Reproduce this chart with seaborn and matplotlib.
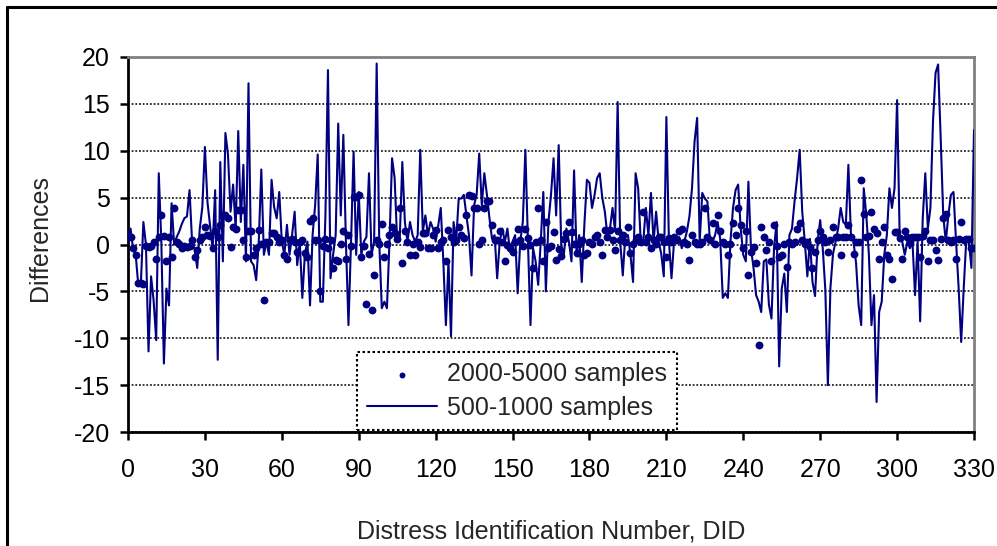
import matplotlib
matplotlib.use("Agg")
import matplotlib.pyplot as plt
from matplotlib.lines import Line2D
import seaborn as sns

# Differences per distress identification number (DID 0..330)
diff_500_1000 = [
    1.0, 1.7, -0.5, -1.1, -4.3, -4.3, 2.4, 0.0, -11.4, -3.4,
    -6.0, -10.2, 7.6, 0.3, -12.7, -4.7, -6.5, 4.4, 0.0, 0.8,
    1.4, 2.2, 2.8, 3.0, 5.8, 0.3, -0.5, -2.5, 1.7, 4.0,
    10.4, 4.5, 2.0, -0.4, 5.8, -12.3, 8.8, -1.8, 11.9, 9.6,
    3.5, 6.4, 1.7, 12.1, 2.4, 8.5, -1.8, 17.2, -1.8, -2.2,
    -3.8, 0.3, 8.0, -1.1, 0.3, -1.1, 6.9, 4.0, 2.8, 5.6,
    0.3, -1.1, 2.1, -1.1, 1.0, 3.5, -2.2, 0.3, -5.7, -1.0,
    0.3, -6.5, 1.0, 4.2, 9.6, -6.1, -6.1, 3.0, 18.6, -3.6,
    -1.1, 1.0, 12.9, 3.1, 11.7, 0.3, -8.6, 0.3, 9.9, -1.1,
    5.6, -1.1, 0.3, 0.8, 7.6, -1.1, 0.3, 19.3, 0.3, -6.8,
    -6.1, -6.8, 0.3, 9.2, 7.1, 0.3, 0.6, 8.8, 2.4, 0.3,
    2.4, 1.0, 0.3, 1.0, 10.1, 1.4, 3.1, 1.0, 2.4, 1.7,
    0.3, 2.0, 3.9, -1.8, -8.6, -1.8, -9.8, 2.4, 0.3, 4.9,
    4.9, 5.3, 3.1, 1.0, -3.3, 4.2, 5.3, 9.7, 4.2, 7.6,
    5.3, 2.8, 0.6, 1.0, -3.6, 0.3, 1.7, 0.3, 1.7, -0.8,
    0.3, 1.0, -5.2, 0.3, 2.4, 10.1, 0.3, -8.6, -0.4, -1.8,
    -4.3, 0.3, 5.6, -5.0, 2.4, 5.3, 9.2, 3.1, 10.6, -0.1,
    -1.1, 1.7, 0.3, -1.8, 7.9, -1.1, 1.0, -4.0, 2.0, 6.9,
    6.6, 3.9, 5.3, 7.1, 7.6, 5.0, 3.5, 1.0, 1.7, 3.9,
    1.4, 15.2, 0.3, -3.3, 1.0, 1.0, -1.1, -4.0, 7.6, 6.0,
    0.3, 0.3, 3.9, 1.0, 5.5, 0.3, 3.5, 0.3, -1.0, -3.4,
    13.6, 0.3, -3.6, 0.3, 0.3, 0.8, -0.4, 0.3, 1.4, 3.0,
    6.0, 11.0, 13.5, 0.3, 5.5, 4.9, 4.6, 0.3, 0.3, 1.0,
    2.4, 0.6, -5.7, -5.2, -5.7, 0.3, 3.9, 5.8, 6.4, 1.7,
    -1.1, -1.8, 6.7, -0.4, -2.5, -5.4, -6.1, -7.2, -1.8, -1.6,
    -6.4, -7.9, -0.4, 2.4, -13.0, -4.7, -3.1, -7.2, 1.0, 1.7,
    4.6, 7.1, 10.1, 3.5, 0.3, -3.4, 0.6, -4.0, -5.5, 0.3,
    2.6, -0.4, -4.8, -15.0, -4.6, -1.0, 0.3, 1.7, 3.9, 2.4,
    2.1, 8.5, 1.0, 0.3, -2.0, -6.5, -8.6, 6.0, 3.1, -1.1,
    -8.6, -5.4, -16.8, -7.2, -6.1, -1.1, 1.0, 6.0, 3.9, 6.0,
    15.4, 1.0, 0.3, -1.1, 0.3, -0.4, 0.3, -5.4, 0.3, -8.2,
    2.8, 7.6, 1.7, 3.9, 13.1, 18.3, 19.2, 11.4, 3.1, 0.3,
    3.1, 5.3, 5.6, 0.3, -4.6, -10.4, -4.6, 0.6, 0.3, -2.5,
    12.2,
]

diff_2000_5000 = [
    0.8, 0.8, -0.4, -1.1, -4.1, -4.1, -4.2, -0.2, -0.3, -0.2,
    0.3, -1.5, 0.8, 3.1, 0.9, -1.8, 0.8, -1.3, 3.9, 0.3,
    0.1, -0.4, -0.2, -0.3, -0.2, 0.5, -1.3, -0.6, 0.5, 0.8,
    1.9, 1.0, 0.9, -0.4, 1.4, 0.8, 2.1, 3.1, 3.1, 2.8,
    -0.3, 1.9, 1.7, 3.7, 3.7, 0.5, -1.3, 1.4, 1.4, -1.1,
    -0.4, 1.5, 0.1, -5.9, 0.3, 0.3, 1.2, 1.2, 0.8, 0.3,
    0.5, -1.1, -1.5, 0.5, 0.6, 0.3, -0.8, 0.3, 0.5, -0.9,
    -1.3, 2.5, 2.8, 0.5, 0.5, -5.0, -0.2, 0.6, -0.4, 0.5,
    -2.5, -1.6, -1.8, 0.1, 1.4, -1.5, 1.0, -0.2, 5.1, 5.1,
    5.3, -1.3, -0.2, -6.3, -1.0, -7.0, -3.3, 0.5, 0.1, 2.2,
    -1.3, 0.1, 1.0, 1.9, 1.2, 0.6, 3.9, -2.0, 1.4, 0.3,
    -1.1, 0.1, -1.1, 0.3, -0.3, 1.2, 1.2, -0.4, -0.4, 1.0,
    1.5, -0.4, 0.3, 0.5, -1.8, 1.5, 0.8, 0.3, 0.5, 1.9,
    1.0, 0.7, 3.1, 5.3, 5.2, 3.9, 3.9, 0.1, 0.5, 3.9,
    4.6, 4.6, 2.1, 0.5, 0.5, 1.4, 0.3, -1.8, -0.1, -0.4,
    -0.8, 0.3, 1.7, 0.5, -0.2, 1.7, 0.7, -0.1, -2.5, 0.3,
    3.9, 0.5, -1.8, 2.4, -0.4, -0.2, 1.3, -1.6, -0.5, -1.2,
    0.6, 1.2, 2.4, 1.3, 0.1, -0.9, 0.1, 0.5, -1.1, -0.9,
    0.3, 0.1, 0.8, 1.0, 0.3, -1.1, 1.5, 0.8, 1.5, 0.5,
    -0.6, 1.4, 0.5, 1.0, 0.3, 1.9, -0.9, 0.1, 0.5, 0.8,
    0.3, 3.5, 0.3, 0.8, -0.4, 0.5, 0.1, 0.8, 0.8, 0.3,
    -1.3, 0.7, 0.3, 0.8, 0.5, 1.4, 1.7, 0.3, 0.1, -1.7,
    1.0, 0.3, 0.1, 0.1, 0.3, 3.9, 0.8, 0.5, 2.3, 0.1,
    3.1, 1.4, 0.3, 0.1, -1.1, 0.1, 2.3, 1.0, 3.9, 2.1,
    -0.4, 1.4, -3.3, -0.8, -0.3, -2.0, -10.7, 1.9, 0.8, -0.6,
    0.3, -1.8, 2.1, -0.2, -1.3, -1.1, 0.1, -2.4, 0.3, 0.1,
    0.3, 1.7, 2.3, 0.5, 0.1, 0.3, -0.3, -2.5, -0.8, 0.5,
    1.4, 0.8, 0.3, -0.8, 0.5, 1.9, 0.8, 0.8, -1.1, 0.8,
    0.8, 2.1, 0.8, -1.0, 0.3, 0.3, 6.9, 3.3, 0.8, 0.9,
    3.5, 1.7, 1.2, -1.5, 0.3, 1.9, -1.1, -1.5, -3.7, 1.3,
    1.3, 0.7, -1.5, 1.4, 0.8, 0.3, 0.8, 0.8, 0.8, -1.3,
    0.9, 1.4, -1.8, 0.5, 0.5, -0.6, -1.7, 0.6, 2.8, 3.3,
    0.5, 0.3, 0.5, -1.5, 0.6, 2.4, 0.5, 0.6, 0.6, -0.4,
    -0.4,
]

did_500_1000 = list(range(len(diff_500_1000)))
did_2000_5000 = list(range(len(diff_2000_5000)))

x_ticks = list(range(0, 331, 30))
y_ticks = list(range(-20, 21, 5))

NAVY = "#000080"
FS = 18

sns.set_theme(style="white")
plt.rcParams["font.family"] = ["Liberation Sans", "DejaVu Sans"]
plt.rcParams["axes.unicode_minus"] = False

W, H = 997, 546
fig = plt.figure(figsize=(W / 100, H / 100), dpi=100)
ax = fig.add_axes([128 / W, 1 - 432 / H, (974 - 128) / W, (432 - 57) / H])

sns.lineplot(x=did_500_1000, y=diff_500_1000, ax=ax, color=NAVY,
             linewidth=1.5, label="500-1000 samples", zorder=3)
sns.scatterplot(x=did_2000_5000, y=diff_2000_5000, ax=ax, color=NAVY,
                s=32, linewidth=0, label="2000-5000 samples", zorder=4)

ax.set_xlim(0, 330)
ax.set_ylim(-20, 20)
ax.set_xticks(x_ticks)
ax.set_yticks(y_ticks)
ax.set_xlabel("")
ax.set_ylabel("")

ax.set_axisbelow(True)
ax.yaxis.grid(True, color="black", linestyle=(0, (1.2, 1.2)), linewidth=1.1)
ax.xaxis.grid(False)

for side in ("left", "bottom"):
    ax.spines[side].set_color("black")
    ax.spines[side].set_linewidth(2.0)
for side in ("top", "right"):
    ax.spines[side].set_color("#808080")
    ax.spines[side].set_linewidth(2.0)

ax.tick_params(axis="both", which="major", bottom=True, left=True,
               direction="out", length=6, width=1.8, color="black",
               labelsize=FS, labelcolor="black")
ax.tick_params(axis="x", pad=13)
ax.tick_params(axis="y", pad=7)

handles, labels = ax.get_legend_handles_labels()
order = [labels.index("2000-5000 samples"), labels.index("500-1000 samples")]
leg = ax.legend([handles[i] for i in order], [labels[i] for i in order],
                loc="lower left", bbox_to_anchor=((357 - 128) / 846, 0.005),
                borderaxespad=0, fontsize=FS, frameon=True, fancybox=False,
                framealpha=1, facecolor="white", edgecolor="black",
                handlelength=2.8, handletextpad=0.4, labelspacing=0.4,
                borderpad=0.4, markerscale=0.75)
leg.get_frame().set_linewidth(1.5)
leg.get_frame().set_linestyle((0, (1.2, 1.2)))
leg.set_zorder(10)

fig.text(551 / W, 1 - 532 / H, "Distress Identification Number, DID",
         ha="center", va="center", fontsize=FS)
fig.text(40 / W, 1 - 238 / H, "Differences", rotation=90,
         ha="center", va="center", fontsize=FS)

# outer chart frame (top and left edges)
fig.add_artist(Line2D([7 / W, 1.0], [1 - 7 / H, 1 - 7 / H],
                      transform=fig.transFigure, color="black", linewidth=2.2))
fig.add_artist(Line2D([7 / W, 7 / W], [0.0, 1 - 7 / H],
                      transform=fig.transFigure, color="black", linewidth=2.2))

fig.savefig("out.png", dpi=100)
